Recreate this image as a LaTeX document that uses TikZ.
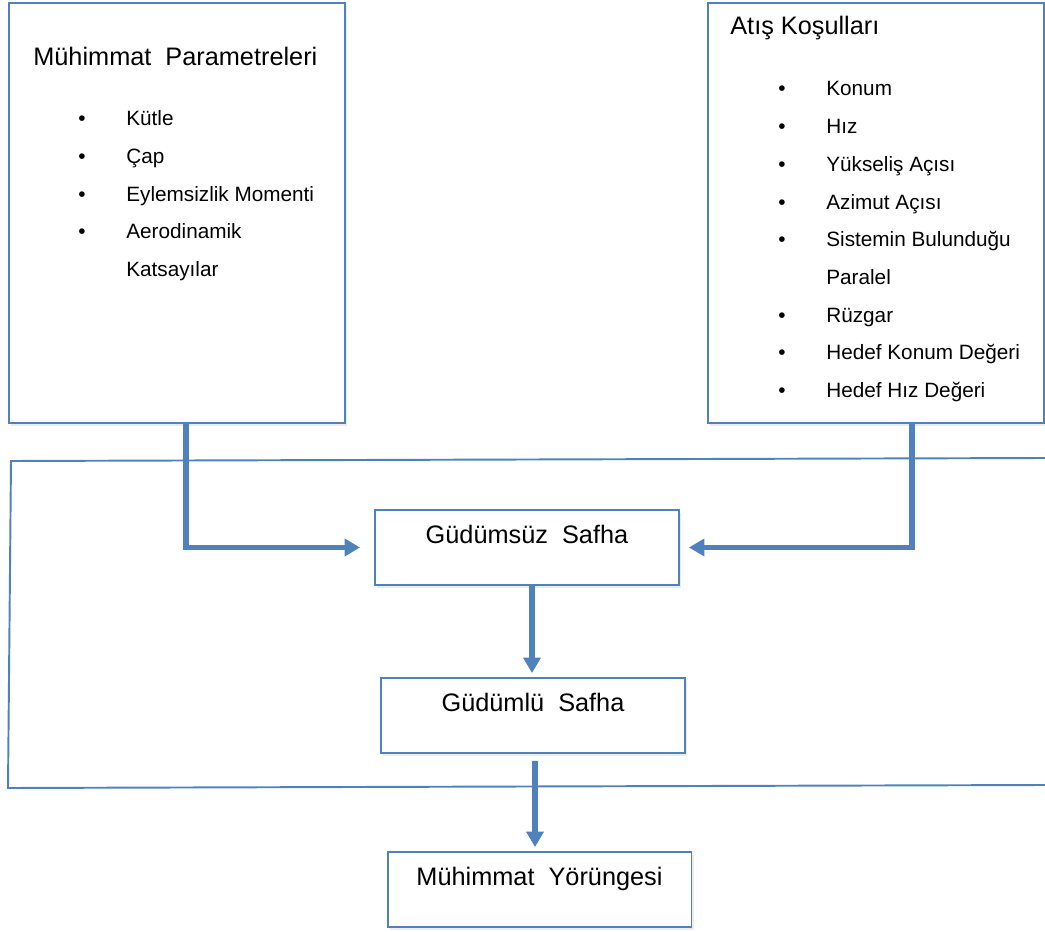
\documentclass[tikz,border=0pt]{standalone}
\usepackage{fontspec}
\setmainfont{Liberation Sans}
\usepackage{xcolor}
\usepackage{tikz}
\usetikzlibrary{arrows.meta, positioning, calc, shadows}

\definecolor{officeblue}{HTML}{4F81BD}

\begin{document}
\begin{tikzpicture}[
    x=0.02cm, y=-0.02cm,
    panel/.style={draw=officeblue, line width=1.1pt, fill=white, inner sep=0pt,
        minimum width=6.72cm, minimum height=8.4cm,
        drop shadow={shadow xshift=1.2pt, shadow yshift=-1.5pt, opacity=0.15}},
    phase/.style={draw=officeblue, line width=1.1pt, fill=white, inner sep=0pt,
        minimum width=6.08cm, text height=0.66cm, text depth=0.84cm,
        font=\fontsize{14.4}{17}\selectfont,
        drop shadow={shadow xshift=1.2pt, shadow yshift=-1.5pt, opacity=0.15}},
    heading/.style={anchor=base west, inner sep=0pt, font=\fontsize{14.4}{17}\selectfont},
    item/.style={anchor=base west, inner sep=0pt, font=\fontsize{11.8}{14}\selectfont},
    dot/.style={anchor=base, inner sep=0pt, font=\fontsize{11.8}{14}\selectfont},
    frame/.style={draw=officeblue, line width=1.1pt},
    flow/.style={draw=officeblue, line width=3.2pt, -{Triangle[length=0.31cm, width=0.34cm]}}
]
\useasboundingbox (0,0) rectangle (1045,932);

% Outer frame
\draw[frame] (1045,458) -- (11,461) -- (8,788) -- (1045,785);

% Input panels
\node (params) [panel] at (177,213) {};
\node (fire) [panel] at (876,213) {};

\node [heading] at (33,66) {Mühimmat\ \ Parametreleri};
\foreach \txt [count=\k from 0] in {Kütle, Çap, Eylemsizlik Momenti, Aerodinamik, Katsayılar}
    \node [item] at (126,126+37.6*\k) {\txt};
\foreach \k in {0,...,3}
    \node [dot] at (82,126+37.6*\k) {\textbullet};

\node [heading] at (730,35) {Atış Koşulları};
\foreach \txt [count=\k from 0] in {Konum, Hız, Yükseliş Açısı, Azimut Açısı,
        Sistemin Bulunduğu, Paralel, Rüzgar, Hedef\ Konum\ Değeri, Hedef\ Hız\ Değeri}
    \node [item] at (826,96+37.7*\k) {\txt};
\foreach \k in {0,1,2,3,4,6,7,8}
    \node [dot] at (782,96+37.7*\k) {\textbullet};

% Phases
\node (unguided) [phase, anchor=base] at (527,543) {Güdümsüz\ \ Safha};
\node (guided) [phase, anchor=base] at (533,711) {Güdümlü\ \ Safha};
\node (path) [phase, anchor=base] at (539.5,885) {Mühimmat\ \ Yörüngesi};

% Links
\draw[flow, shorten >=0.28cm] ([xshift=0.18cm]params.south) |- (unguided.west);
\draw[flow, shorten >=0.18cm] ([xshift=0.72cm]fire.south) |- (unguided.east);
\draw[flow, shorten >=0.08cm] ([xshift=0.1cm]unguided.south) -- ([xshift=-0.02cm]guided.north);
\draw[flow, shorten <=0.14cm, shorten >=0.08cm] ([xshift=0.04cm]guided.south) -- ([xshift=-0.09cm]path.north);

\end{tikzpicture}
\end{document}
